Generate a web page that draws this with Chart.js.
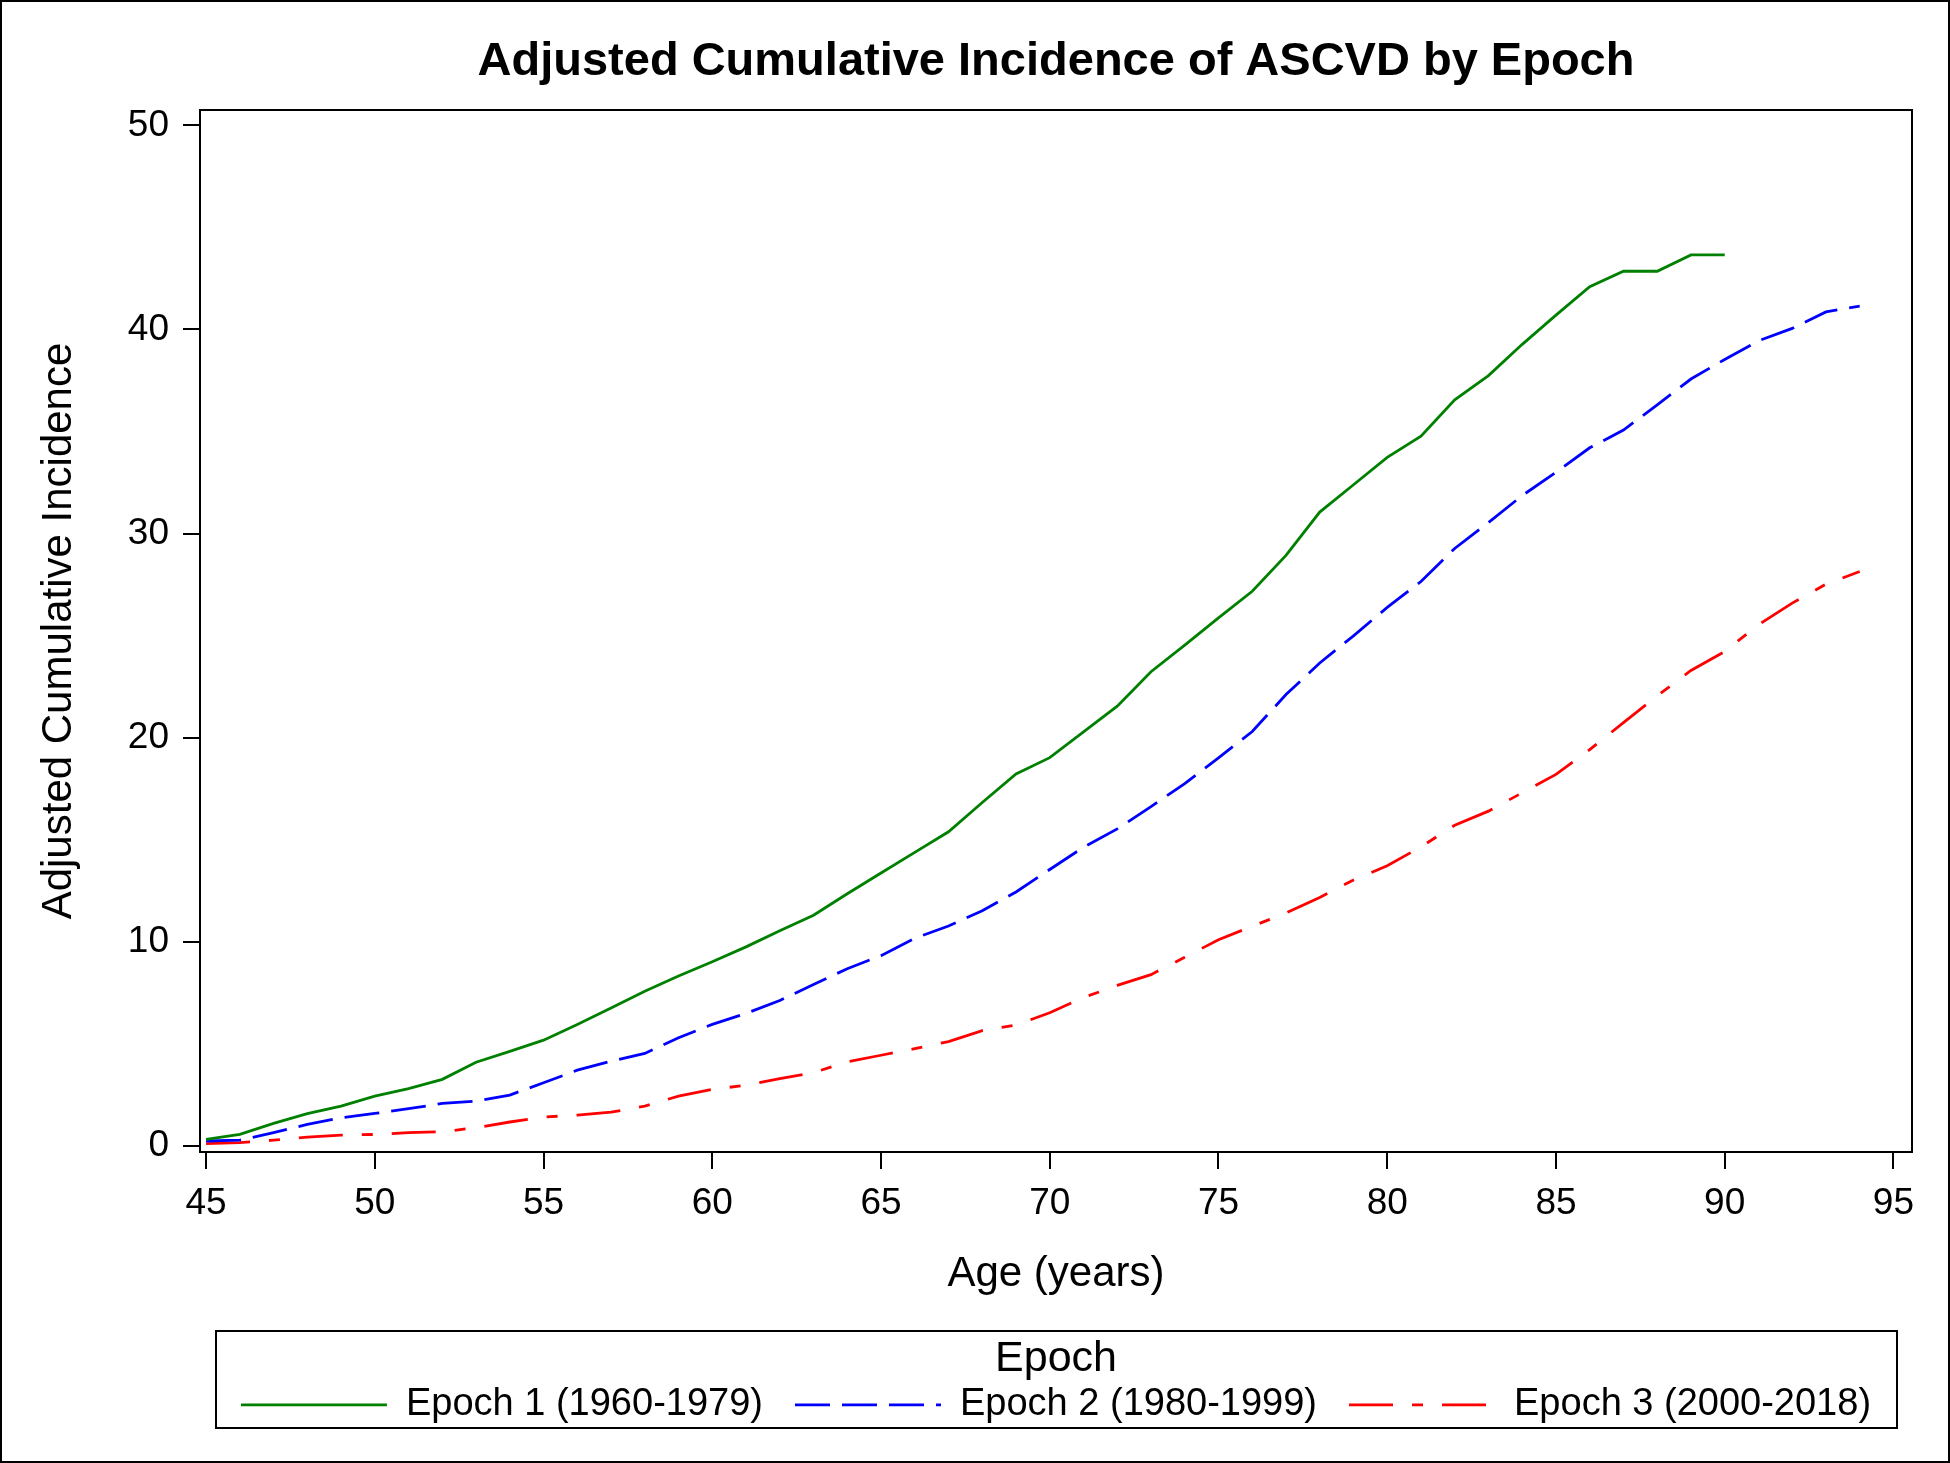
<!DOCTYPE html>
<html>
<head>
<meta charset="utf-8">
<script src="https://cdn.jsdelivr.net/npm/chart.js@4.4.1/dist/chart.umd.min.js"></script>
<style>
html,body{margin:0;padding:0;background:#fff;}
canvas{display:block;}
</style>
</head>
<body>
<canvas id="c" width="1950" height="1463"></canvas>
<script>
// ---- data ----
const ages = [45,46,47,48,49,50,51,52,53,54,55,56,57,58,59,60,61,62,63,64,65,66,67,68,69,70,71,72,73,74,75,76,77,78,79,80,81,82,83,84,85,86,87,88,89,90,91,92,93,94];
const epoch1 = [0.32,0.56,1.10,1.58,1.95,2.44,2.81,3.26,4.10,4.63,5.18,5.95,6.76,7.58,8.32,9.02,9.75,10.54,11.30,12.35,13.37,14.38,15.39,16.82,18.22,19.02,20.28,21.54,23.23,24.53,25.87,27.17,28.93,31.05,32.39,33.73,34.77,36.55,37.74,39.27,40.70,42.09,42.85,42.85,43.65,43.65];
const epoch2 = [0.24,0.28,0.65,1.05,1.38,1.59,1.82,2.08,2.19,2.49,3.09,3.71,4.15,4.53,5.30,5.95,6.49,7.12,7.91,8.68,9.32,10.17,10.77,11.52,12.44,13.54,14.63,15.53,16.62,17.75,19.01,20.30,22.11,23.66,24.99,26.38,27.65,29.27,30.54,31.86,33.00,34.20,35.07,36.30,37.57,38.53,39.44,40.05,40.86,41.14];
const epoch3 = [0.11,0.16,0.28,0.43,0.53,0.56,0.65,0.69,0.89,1.17,1.41,1.51,1.65,1.95,2.44,2.77,2.97,3.29,3.59,4.12,4.44,4.76,5.11,5.65,5.92,6.52,7.27,7.86,8.39,9.24,10.10,10.76,11.41,12.17,13.03,13.72,14.65,15.71,16.40,17.30,18.20,19.41,20.74,22.05,23.29,24.22,25.53,26.59,27.52,28.14];
const seriesLabels = ['Epoch 1 (1960-1979)', 'Epoch 2 (1980-1999)', 'Epoch 3 (2000-2018)'];
const xTickValues = [45,50,55,60,65,70,75,80,85,90,95];
const yTickValues = [0,10,20,30,40,50];
const chartTitle = 'Adjusted Cumulative Incidence of ASCVD by Epoch';
const xTitle = 'Age (years)';
const yTitle = 'Adjusted Cumulative Incidence';
const legendTitle = 'Epoch';

function pts(vals){ return vals.map((v,i)=>({x: ages[i], y: v})); }

Chart.defaults.font.family = '"Liberation Sans", Arial, Helvetica, sans-serif';
Chart.defaults.color = '#000';

const framePlugin = {
  id: 'frame',
  beforeDraw(chart){
    const ctx = chart.ctx;
    ctx.save(); ctx.fillStyle = '#fff'; ctx.fillRect(0,0,chart.width,chart.height); ctx.restore();
  },
  afterDraw(chart){
    const {ctx, chartArea: a} = chart;
    ctx.save();
    ctx.strokeStyle = '#000';
    ctx.lineWidth = 2;
    ctx.setLineDash([]);
    ctx.strokeRect(a.left, a.top, a.right - a.left, a.bottom - a.top);
    const lg = chart.legend;
    ctx.strokeRect(lg.left + 16, lg.top - 7, lg.width - 31, lg.height + 1.1);
    ctx.strokeRect(1, 1, chart.width - 2, chart.height - 2);
    ctx.restore();
  }
};

const LW = 2.8;

new Chart(document.getElementById('c'), {
  type: 'line',
  data: {
    datasets: [
      {label: seriesLabels[0], data: pts(epoch1), borderColor: '#008000', borderWidth: LW, borderDash: [], pointRadius: 0, tension: 0, fill: false},
      {label: seriesLabels[1], data: pts(epoch2), borderColor: '#0000ff', borderWidth: LW, borderDash: [35,12], pointRadius: 0, tension: 0, fill: false},
      {label: seriesLabels[2], data: pts(epoch3), borderColor: '#ff0000', borderWidth: LW, borderDash: [44,19,11,19], pointRadius: 0, tension: 0, fill: false}
    ]
  },
  options: {
    responsive: false,
    animation: false,
    devicePixelRatio: 1,
    layout: {padding: {top: 0, left: 0, right: 38, bottom: 29.1}},
    scales: {
      x: {
        type: 'linear',
        min: 44.82, max: 95.55,
        afterBuildTicks: s => { s.ticks = xTickValues.map(v => ({value: v})); },
        afterFit: s => { s.height = 186; },
        ticks: {font: {size: 37}, color: '#000', padding: 12.8, maxRotation: 0, autoSkip: false},
        grid: {display: true, drawOnChartArea: false, drawTicks: true, tickLength: 17, color: '#000', lineWidth: 2},
        border: {display: false},
        title: {display: true, text: xTitle, font: {size: 42}, color: '#000', padding: {top: 0, bottom: 38.3}}
      },
      y: {
        type: 'linear',
        min: -0.3, max: 50.75,
        afterBuildTicks: s => { s.ticks = yTickValues.map(v => ({value: v})); },
        afterFit: s => { s.width = 200; },
        ticks: {font: {size: 37}, color: '#000', padding: 14, autoSkip: false},
        grid: {display: true, drawOnChartArea: false, drawTicks: true, tickLength: 17, color: '#000', lineWidth: 2},
        border: {display: false},
        title: {display: true, text: yTitle, font: {size: 42}, color: '#000', padding: {top: 34.3, bottom: 0}}
      }
    },
    plugins: {
      title: {display: true, fullSize: false, text: chartTitle, font: {size: 47, weight: 'bold'}, color: '#000', padding: {top: 34, bottom: 19.6}},
      legend: {
        display: true,
        position: 'bottom',
        align: 'center',
        fullSize: false,
        title: {display: true, text: legendTitle, font: {size: 43, lineHeight: 0.35}, color: '#000', padding: {top: 0, bottom: 0.85}},
        labels: {
          usePointStyle: true, pointStyle: 'line', pointStyleWidth: 146,
          font: {size: 38}, color: '#000', padding: 32,
          generateLabels: chart => {
            const items = Chart.defaults.plugins.legend.labels.generateLabels(chart);
            items.forEach((it, i) => {
              const ds = chart.data.datasets[i];
              it.lineDash = ds.borderDash;
              it.strokeStyle = ds.borderColor;
              it.lineWidth = ds.borderWidth;
              it.lineCap = 'butt';
              it.pointStyle = 'line';
            });
            return items;
          }
        }
      },
      tooltip: {enabled: false}
    }
  },
  plugins: [framePlugin]
});
</script>
</body>
</html>
